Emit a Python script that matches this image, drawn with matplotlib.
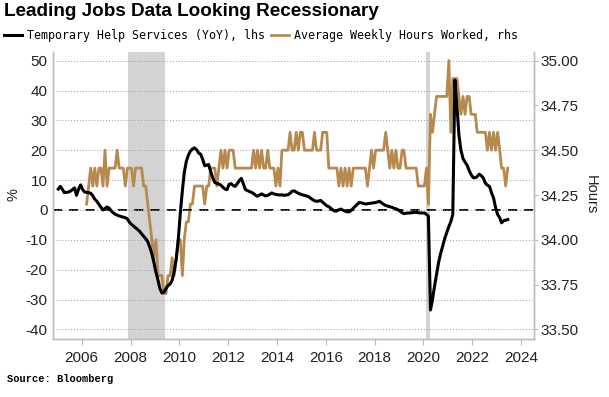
import matplotlib
matplotlib.use("Agg")
import matplotlib.pyplot as plt
import matplotlib.dates as mdates
from matplotlib.ticker import FormatStrFormatter
from datetime import datetime

plt.rcParams["axes.unicode_minus"] = False

# Temporary Help Services, YoY %, monthly Jan 2005 - Jun 2023
temp_help = [
    7.0, 7.9, 7.0, 5.8, 5.9, 6.0, 6.3, 6.8, 7.4, 4.9, 7.0, 8.4,            # 2005
    6.8, 6.0, 5.9, 5.8, 5.6, 4.8, 3.6, 2.9, 1.9, 0.9, 0.0, 0.5,            # 2006
    1.0, 0.6, -0.2, -0.9, -1.4, -1.7, -2.0, -2.2, -2.4, -2.6, -3.0, -4.1,  # 2007
    -4.8, -5.4, -6.0, -6.6, -7.1, -8.0, -8.8, -9.6, -10.6, -12.5, -14.6, -17.5,  # 2008
    -20.8, -23.5, -26.3, -27.8, -27.5, -26.3, -25.3, -24.8, -23.5, -20.5, -16.5, -10.0,  # 2009
    -1.0, 6.5, 12.5, 16.3, 18.3, 19.7, 20.4, 20.8, 20.2, 19.1, 18.7, 17.0,  # 2010
    14.8, 15.0, 15.2, 12.8, 10.8, 9.2, 8.9, 8.7, 8.3, 7.6, 7.0, 6.8,       # 2011
    8.6, 8.8, 8.2, 7.9, 8.8, 9.8, 10.6, 8.8, 6.8, 6.5, 6.2, 5.9,           # 2012
    5.5, 4.9, 4.6, 5.0, 5.4, 5.0, 4.7, 4.9, 5.3, 5.7, 5.4, 5.2,            # 2013
    5.1, 5.0, 5.1, 4.9, 5.0, 5.1, 5.6, 6.3, 6.4, 6.0, 5.6, 5.3,            # 2014
    5.1, 4.9, 4.7, 4.5, 4.0, 3.5, 3.1, 2.9, 3.0, 3.2, 2.6, 2.0,            # 2015
    1.4, 1.1, 0.6, 0.0, -0.4, -0.3, 0.1, 0.3, -0.1, -0.4, -0.6, -0.6,      # 2016
    -0.1, 0.6, 1.2, 1.9, 2.5, 2.4, 2.2, 2.0, 2.1, 2.2, 2.3, 2.4,           # 2017
    2.5, 2.7, 2.9, 2.4, 1.9, 1.5, 1.3, 1.1, 0.9, 0.6, 0.4, 0.1,            # 2018
    -0.4, -0.9, -1.2, -1.1, -1.0, -1.0, -0.9, -0.8, -0.8, -0.9, -1.0, -1.0,  # 2019
    -1.0, -1.5, -2.1, -33.5, -30.0, -25.5, -21.5, -17.5, -14.5, -12.0, -9.5, -7.5,  # 2020
    -5.5, -3.8, -1.5, 43.5, 35.0, 25.0, 20.0, 17.2, 16.0, 15.0, 13.2, 11.8,  # 2021
    10.8, 10.8, 11.2, 12.0, 11.5, 10.7, 9.0, 8.3, 7.9, 5.8, 4.0, 0.8,      # 2022
    -1.5, -2.6, -4.3, -3.6, -3.4, -3.2,                                    # 2023
]

# Average weekly hours worked, monthly Mar 2006 - Jun 2023
weekly_hours = [
    34.2, 34.3, 34.4, 34.3, 34.4, 34.3, 34.4, 34.4, 34.3, 34.5,            # 2006 (from Mar)
    34.3, 34.4, 34.4, 34.4, 34.4, 34.5, 34.4, 34.4, 34.4, 34.3, 34.4, 34.4,  # 2007
    34.4, 34.3, 34.4, 34.4, 34.4, 34.4, 34.3, 34.3, 34.2, 34.1, 34.0, 33.9,  # 2008
    34.0, 33.8, 33.8, 33.8, 33.7, 33.7, 33.8, 33.8, 33.9, 33.8, 33.9, 34.0,  # 2009
    34.0, 33.8, 34.0, 34.1, 34.1, 34.2, 34.2, 34.3, 34.3, 34.3, 34.3, 34.3,  # 2010
    34.2, 34.3, 34.3, 34.4, 34.4, 34.4, 34.3, 34.4, 34.5, 34.4, 34.5, 34.4,  # 2011
    34.5, 34.5, 34.5, 34.4, 34.4, 34.4, 34.4, 34.4, 34.4, 34.4, 34.4, 34.4,  # 2012
    34.5, 34.4, 34.5, 34.4, 34.5, 34.4, 34.4, 34.5, 34.4, 34.4, 34.4, 34.3,  # 2013
    34.4, 34.3, 34.5, 34.5, 34.5, 34.5, 34.6, 34.5, 34.5, 34.6, 34.5, 34.6,  # 2014
    34.6, 34.5, 34.5, 34.5, 34.5, 34.5, 34.6, 34.5, 34.5, 34.5, 34.6, 34.6,  # 2015
    34.6, 34.4, 34.4, 34.4, 34.4, 34.4, 34.3, 34.4, 34.3, 34.4, 34.3, 34.4,  # 2016
    34.3, 34.4, 34.4, 34.4, 34.4, 34.4, 34.4, 34.4, 34.3, 34.4, 34.5, 34.4,  # 2017
    34.5, 34.5, 34.5, 34.5, 34.5, 34.6, 34.5, 34.4, 34.5, 34.4, 34.5, 34.4,  # 2018
    34.4, 34.5, 34.5, 34.4, 34.4, 34.4, 34.4, 34.4, 34.4, 34.3, 34.3, 34.3,  # 2019
    34.3, 34.4, 34.2, 34.7, 34.6, 34.7, 34.8, 34.8, 34.8, 34.8, 34.8, 34.8,  # 2020
    35.0, 34.6, 34.9, 34.9, 34.9, 34.8, 34.7, 34.8, 34.7, 34.8, 34.8, 34.7,  # 2021
    34.7, 34.7, 34.6, 34.6, 34.6, 34.6, 34.6, 34.5, 34.6, 34.5, 34.6, 34.5,  # 2022
    34.6, 34.5, 34.4, 34.4, 34.3, 34.4,                                    # 2023
]

recessions = [(datetime(2007, 12, 1), datetime(2009, 6, 1)),
              (datetime(2020, 2, 1), datetime(2020, 4, 5))]

left_ticks = [-40, -30, -20, -10, 0, 10, 20, 30, 40, 50]
right_ticks = [33.50, 33.75, 34.00, 34.25, 34.50, 34.75, 35.00]
year_ticks = [2006, 2008, 2010, 2012, 2014, 2016, 2018, 2020, 2022, 2024]


def month_dates(year, month, n):
    out = []
    for i in range(n):
        k = month - 1 + i
        out.append(datetime(year + k // 12, k % 12 + 1, 15))
    return out


temp_dates = month_dates(2005, 1, len(temp_help))
hours_dates = month_dates(2006, 3, len(weekly_hours))

BLACK = "#000000"
GOLD = "#B8894D"
SPINE = "#BDBDBD"
TXT = "#222222"

fig = plt.figure(figsize=(6.09, 3.97), dpi=100)
ax = fig.add_axes([53 / 609, 1 - 339 / 397, 481 / 609, 287 / 397])
ax2 = ax.twinx()
ax.set_zorder(ax2.get_zorder() + 1)
ax.patch.set_visible(False)

# recession shading and hours on the right axis (drawn underneath)
for start, end in recessions:
    ax2.axvspan(start, end, color="#D3D3D3", lw=0, zorder=0)
l2, = ax2.plot(hours_dates, weekly_hours, color=GOLD, lw=2.0, zorder=2,
               label="Average Weekly Hours Worked, rhs")

# left axis: grid, zero line, temp help
ax.yaxis.grid(True, ls=(0, (1, 2)), color="#9A9A9A", lw=0.7)
ax.axhline(0, color=BLACK, lw=1.3, ls=(0, (5, 4)), zorder=1.5)
l1, = ax.plot(temp_dates, temp_help, color=BLACK, lw=2.2, zorder=3,
              label="Temporary Help Services (YoY), lhs")

ax.set_ylim(-43.2, 52.9)
ax2.set_ylim(33.4467, 35.048)
ax.set_yticks(left_ticks)
ax2.set_yticks(right_ticks)
ax2.yaxis.set_major_formatter(FormatStrFormatter("%.2f"))

ax.set_xlim(datetime(2004, 10, 28), datetime(2024, 7, 12))
ax.set_xticks([datetime(y, 1, 1) for y in year_ticks])
ax.xaxis.set_major_formatter(mdates.DateFormatter("%Y"))

for a in (ax, ax2):
    a.spines["top"].set_visible(False)
    for s in ("left", "right", "bottom"):
        a.spines[s].set_color(SPINE)
        a.spines[s].set_linewidth(1.0)

tick_font = {"family": "Liberation Sans", "size": 11}
ax.tick_params(axis="y", length=0, pad=4, labelcolor=TXT)
ax.tick_params(axis="x", length=4, color=SPINE, pad=5, labelcolor=TXT)
ax2.tick_params(axis="y", length=3, color=SPINE, pad=2, labelcolor=TXT)
for lab in ax.get_xticklabels() + ax.get_yticklabels() + ax2.get_yticklabels():
    lab.set_fontfamily(tick_font["family"])
    lab.set_fontsize(tick_font["size"])

fig.text(4 / 609, 1 - 12 / 397, "Leading Jobs Data Looking Recessionary",
         fontsize=13.6, fontweight="bold", family="Liberation Sans",
         va="center", ha="left", color=BLACK)

fig.legend(handles=[l1, l2], loc="upper left", bbox_to_anchor=(0.0, 1 - 26 / 397),
           ncol=2, frameon=False, handlelength=1.6, handletextpad=0.4,
           columnspacing=0.5, borderaxespad=0.0, borderpad=0.3,
           prop={"family": "DejaVu Sans Mono", "size": 8.4})

fig.text(14 / 609, 1 - 195 / 397, "%", rotation=90, ha="center", va="center",
         fontsize=10.5, family="Liberation Sans", color=TXT)
fig.text(591 / 609, 1 - 195 / 397, "Hours", rotation=270, ha="center", va="center",
         fontsize=10.5, family="Liberation Sans", color=TXT)
fig.text(7 / 609, 1 - 379 / 397, "Source: Bloomberg", ha="left", va="center",
         fontsize=7.5, fontweight="bold", family="Liberation Mono", color=BLACK)

fig.savefig("out.png", dpi=100)
